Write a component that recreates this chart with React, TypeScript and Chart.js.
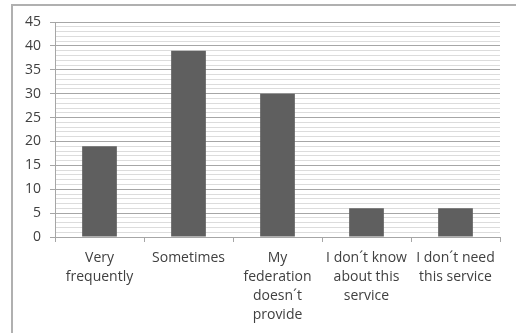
import React, { useEffect, useRef } from "react";
import { Chart, registerables } from "chart.js";

Chart.register(...registerables);

const categories: (string | string[])[] = [
  ["Very", "frequently"],
  ["Sometimes"],
  ["My", "federation", "doesn´t", "provide"],
  ["I don´t know", "about this", "service"],
  ["I don´t need", "this service"],
];
const values: number[] = [19, 39, 30, 6, 6];
const yMax = 45;
const yMajorStep = 5;

export default function App() {
  const ref = useRef<HTMLCanvasElement>(null);
  useEffect(() => {
    document.body.style.margin = "0";
    const ctx = ref.current!;
    const chart = new Chart(ctx, {
      type: "bar",
      data: {
        labels: categories,
        datasets: [
          {
            data: values,
            backgroundColor: "#5f5f5f",
            borderWidth: 0,
            barPercentage: 0.39,
            categoryPercentage: 1,
          },
        ],
      },
      options: {
        animation: false,
        responsive: false,
        maintainAspectRatio: false,
        layout: { padding: { left: 0, right: 16, top: 22, bottom: 0 } },
        plugins: { legend: { display: false }, tooltip: { enabled: false } },
        scales: {
          x: {
            grid: {
              offset: true,
              drawOnChartArea: false,
              tickLength: 5,
              color: "#a6a6a6",
            },
            border: { color: "#a6a6a6", width: 1 },
            ticks: {
              color: "#404040",
              maxRotation: 0,
              autoSkip: false,
              padding: 6,
              font: { family: "Open Sans", size: 14, lineHeight: 1.36 },
            },
            afterFit: (s: any) => {
              s.height = 96;
            },
          },
          y: {
            min: 0,
            max: yMax,
            ticks: {
              stepSize: 1,
              autoSkip: false,
              color: "#404040",
              padding: 9,
              font: { family: "Open Sans", size: 14 },
              callback: (v: any) => (Number(v) % yMajorStep === 0 ? String(v) : ""),
            },
            grid: {
              tickLength: 5,
              color: (c: any) =>
                c.tick && c.tick.value % yMajorStep === 0 ? "#a6a6a6" : "#dcdcdc",
              tickColor: (c: any) =>
                c.tick && c.tick.value % yMajorStep === 0 ? "#a6a6a6" : "rgba(0,0,0,0)",
            },
            border: { color: "#a6a6a6", width: 1 },
            afterFit: (s: any) => {
              s.width = 55;
            },
          },
        },
      },
    });
    return () => chart.destroy();
  }, []);
  return (
    <div style={{ position: "relative", width: 516, height: 333, overflow: "hidden", background: "#fff" }}>
      <div
        style={{
          position: "absolute",
          left: 11,
          top: 4,
          width: 600,
          height: 400,
          borderLeft: "2px solid #b0b0b0",
          borderTop: "2px solid #b0b0b0",
        }}
      />
      <canvas ref={ref} width={516} height={333} style={{ position: "absolute", left: 0, top: 0 }} />
    </div>
  );
}
